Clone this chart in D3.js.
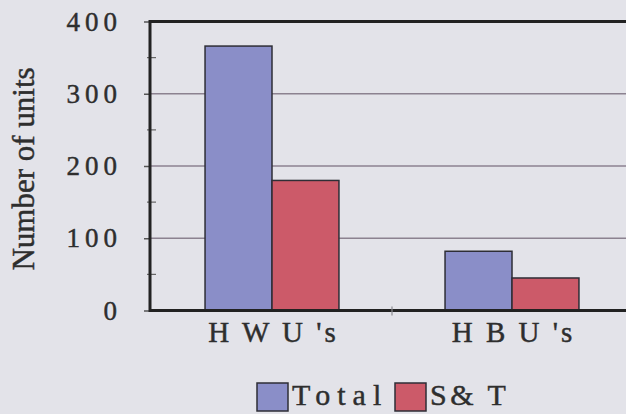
<!DOCTYPE html>
<html>
<head>
<meta charset="utf-8">
<script src="https://cdn.jsdelivr.net/npm/d3@7"></script>
<style>
  html, body { margin: 0; padding: 0; background: #e3e3e9; }
  svg { display: block; }
  text { font-family: "Liberation Serif", "DejaVu Serif", serif; fill: #2e2e2e; stroke: #2e2e2e; stroke-width: 0.45px; }
</style>
</head>
<body>
<svg id="chart" width="626" height="414"></svg>
<script>
// Housing units by category
const categories = ["H W U 's", "H B U 's"];
const seriesNames = ["Total", "S& T"];
const totalValues = [366, 82];
const stValues = [180, 45];
const yTicks = [0, 100, 200, 300, 400];
const yMinorTicks = [50, 150, 250, 350];
const seriesColors = ["#8a8ec8", "#cc5a69"];

const rows = categories.map((c, i) => ({ category: c, values: [totalValues[i], stValues[i]] }));

const svg = d3.select("#chart");
const plot = { left: 150, top: 21.5, bottom: 310.5, right: 640 };

const y = d3.scaleLinear().domain([0, 400]).range([plot.bottom, plot.top]);
const x0 = d3.scaleBand().domain(categories).range([152, 632]).paddingInner(0.442).paddingOuter(0.221);
const x1 = d3.scaleBand().domain(seriesNames).range([0, x0.bandwidth()]).padding(0);

// gridlines
svg.append("g").selectAll("line").data(yTicks.filter(t => t > 0 && t < 400)).join("line")
  .attr("x1", plot.left).attr("x2", plot.right)
  .attr("y1", d => y(d)).attr("y2", d => y(d))
  .attr("stroke", "#8c8290").attr("stroke-width", 1.4);

// bars
const groups = svg.append("g").selectAll("g").data(rows).join("g")
  .attr("transform", d => `translate(${x0(d.category)},0)`);
groups.selectAll("rect").data(d => d.values.map((v, i) => ({ v, i }))).join("rect")
  .attr("x", d => x1(seriesNames[d.i]))
  .attr("y", d => y(d.v))
  .attr("width", x1.bandwidth())
  .attr("height", d => y(0) - y(d.v))
  .attr("fill", d => seriesColors[d.i])
  .attr("stroke", "#2e2e36").attr("stroke-width", 1.5);

// top frame line
svg.append("line")
  .attr("x1", plot.left).attr("x2", plot.right)
  .attr("y1", plot.top).attr("y2", plot.top)
  .attr("stroke", "#222").attr("stroke-width", 3);

// x baseline and category separator tick
svg.append("line")
  .attr("x1", plot.left).attr("x2", plot.right)
  .attr("y1", y(0)).attr("y2", y(0))
  .attr("stroke", "#222").attr("stroke-width", 3);
svg.append("line")
  .attr("x1", x0.range()[0] + x0.step()).attr("x2", x0.range()[0] + x0.step())
  .attr("y1", y(0) - 4).attr("y2", y(0) + 5)
  .attr("stroke", "#8a8a90").attr("stroke-width", 1.2);

// y axis
const yAxis = d3.axisLeft(y).tickValues(yTicks).tickSize(6).tickPadding(22);
const gy = svg.append("g").attr("transform", `translate(${plot.left},0)`).call(yAxis);
gy.select(".domain").remove();
gy.selectAll(".tick line").attr("stroke", "#555").attr("stroke-width", 1.5);
gy.selectAll(".tick text")
  .attr("font-size", 27).attr("letter-spacing", 5)
  .attr("font-family", "Liberation Serif").attr("fill", "#2e2e2e");
svg.append("g").selectAll("line").data(yMinorTicks).join("line")
  .attr("x1", plot.left - 3).attr("x2", plot.left + 6)
  .attr("y1", d => y(d)).attr("y2", d => y(d))
  .attr("stroke", "#666").attr("stroke-width", 1.2);
svg.append("line")
  .attr("x1", plot.left).attr("x2", plot.left)
  .attr("y1", plot.top - 1.5).attr("y2", y(0) + 1.5)
  .attr("stroke", "#222").attr("stroke-width", 3);

// x category labels
svg.append("g").selectAll("text").data(categories).join("text")
  .attr("x", d => x0(d) + x0.bandwidth() / 2 + 1.5)
  .attr("y", 342)
  .attr("text-anchor", "middle")
  .attr("font-size", 29).attr("letter-spacing", 3)
  .text(d => d);

// y axis title
svg.append("text")
  .attr("transform", "translate(34,169) rotate(-90)")
  .attr("text-anchor", "middle")
  .attr("font-size", 31)
  .text("Number of units");

// legend
const legend = svg.append("g");
const legendItems = [
  { name: "Total", x: 257, color: seriesColors[0], spacing: 7 },
  { name: "S& T", x: 395, color: seriesColors[1], spacing: 3.5 }
];
legendItems.forEach(item => {
  legend.append("rect")
    .attr("x", item.x).attr("y", 383).attr("width", 31).attr("height", 28)
    .attr("fill", item.color).attr("stroke", "#2e2e36").attr("stroke-width", 1.5);
  legend.append("text")
    .attr("x", item.x + 35).attr("y", 405)
    .attr("font-size", 30).attr("letter-spacing", item.spacing)
    .text(item.name);
});
</script>
</body>
</html>
